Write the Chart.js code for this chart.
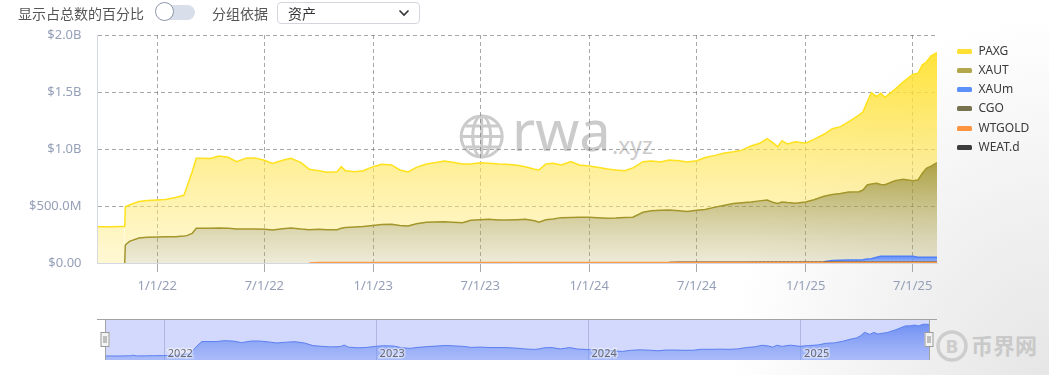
<!DOCTYPE html>
<html><head><meta charset="utf-8">
<script src="https://cdn.jsdelivr.net/npm/chart.js@4.4.0/dist/chart.umd.min.js"></script>
<style>
html,body{margin:0;padding:0;}
body{width:1049px;height:375px;position:relative;overflow:hidden;background:#fff;font-family:"Noto Sans","Noto Sans CJK SC",sans-serif;}
#bg{position:absolute;left:0;top:0;width:1049px;height:375px;background:radial-gradient(ellipse 320px 360px at 1049px 375px,#e6e6e6 0%,#efefef 40%,rgba(255,255,255,0) 100%);}
#wm{position:absolute;left:0;top:0;}
canvas{position:absolute;left:0;}
.ctl{position:absolute;top:5px;height:16px;line-height:16px;font-size:14px;color:#555;font-family:"Noto Sans CJK SC","Noto Sans",sans-serif;white-space:nowrap;}
#track{position:absolute;left:160px;top:4.5px;width:35px;height:15px;border-radius:8px;background:#d8deea;}
#knob{position:absolute;left:155px;top:2px;width:17px;height:17px;border-radius:50%;background:#fff;border:1.5px solid #8c95a6;}
#sel{position:absolute;left:277px;top:1.5px;width:141px;height:20px;border:1px solid #d3d6dd;border-radius:4px;background:#fff;}
#sel span{position:absolute;left:10px;top:2px;line-height:16px;font-size:14px;color:#333;font-family:"Noto Sans CJK SC",sans-serif;}
#sel svg{position:absolute;left:120px;top:5px;}
#legend{position:absolute;left:957px;top:0;}
.li{position:absolute;left:0;height:16px;width:90px;}
.li i{position:absolute;left:0;top:6px;width:15px;height:5px;border-radius:1.5px;}
.li b{position:absolute;left:21.5px;top:0;line-height:16px;font-size:12px;font-weight:normal;color:#3a3a3a;white-space:nowrap;}
</style></head>
<body>
<div id="bg"></div>
<svg id="wm" width="1049" height="375">
 <g fill="none" stroke="#cbcbcb" stroke-width="3">
  <circle cx="481.7" cy="136.5" r="20.5"/>
  <ellipse cx="481.7" cy="136.5" rx="9" ry="20.5"/>
  <line x1="481.7" y1="116" x2="481.7" y2="157"/>
  <line x1="461.2" y1="136.5" x2="502.2" y2="136.5"/>
  <line x1="465.5" y1="126" x2="497.9" y2="126"/>
  <line x1="465.5" y1="147" x2="497.9" y2="147"/>
 </g>
 <text x="512" y="151" font-size="56" fill="#cbcbcb" font-family="Noto Sans, sans-serif">rwa</text>
 <text x="612" y="154" font-size="23" fill="#cbcbcb" font-family="Noto Sans, sans-serif">.xyz</text>
 <circle cx="952" cy="346" r="14" fill="none" stroke="#cdcdcd" stroke-width="3.5"/>
 <text x="952" y="352.5" font-size="17" font-weight="bold" fill="#cdcdcd" text-anchor="middle" font-family="DejaVu Sans, sans-serif">B</text>
 <text x="971" y="354" font-size="22" font-weight="bold" fill="#c9c9c9" font-family="Noto Sans CJK SC, sans-serif">币界网</text>
</svg>
<canvas id="main" width="1049" height="300" style="top:0;width:1049px;height:300px"></canvas>
<canvas id="nav" width="1049" height="60" style="top:310px;width:1049px;height:60px"></canvas>
<div class="ctl" style="left:18px">显示占总数的百分比</div>
<div id="track"></div><div id="knob"></div>
<div class="ctl" style="left:212px">分组依据</div>
<div id="sel"><span>资产</span><svg width="12" height="10"><polyline points="1.5,2.5 6,7 10.5,2.5" fill="none" stroke="#333" stroke-width="1.6"/></svg></div>
<div id="legend"></div>
<script>
// ---------------- data ----------------
const dates = [
'2021-09-22','2021-10-01','2021-10-15','2021-11-01','2021-11-07','2021-11-08','2021-11-15','2021-12-01','2021-12-15',
'2022-01-01','2022-01-15','2022-02-01','2022-02-15','2022-02-20','2022-03-01','2022-03-08','2022-03-15','2022-04-01','2022-04-15','2022-05-01','2022-05-15','2022-06-01','2022-06-15','2022-07-01','2022-07-15','2022-08-01','2022-08-15','2022-09-01','2022-09-15','2022-10-01','2022-10-15','2022-11-01','2022-11-08','2022-11-15','2022-12-01','2022-12-15',
'2023-01-01','2023-01-15','2023-02-01','2023-02-15','2023-03-01','2023-03-15','2023-04-01','2023-04-15','2023-05-01','2023-05-15','2023-06-01','2023-06-15','2023-07-01','2023-07-15','2023-08-01','2023-08-15','2023-09-01','2023-09-15','2023-10-01','2023-10-08','2023-10-20','2023-11-01','2023-11-15','2023-12-01','2023-12-15',
'2024-01-01','2024-01-15','2024-02-01','2024-02-15','2024-03-01','2024-03-15','2024-04-01','2024-04-15','2024-05-01','2024-05-15','2024-06-01','2024-06-15','2024-07-01','2024-07-15','2024-08-01','2024-08-15','2024-09-01','2024-09-15','2024-10-01','2024-10-15','2024-10-28','2024-11-08','2024-11-15','2024-11-22','2024-12-01','2024-12-15',
'2025-01-01','2025-01-15','2025-02-01','2025-02-15','2025-03-01','2025-03-15','2025-04-01','2025-04-08','2025-04-15','2025-04-22','2025-05-01','2025-05-08','2025-05-15','2025-06-01','2025-06-15','2025-07-01','2025-07-10','2025-07-17','2025-07-24','2025-08-01','2025-08-11'];

// values in $M
const PAXG = [
318,318,317,320,321,336,319,320,323,
325,327,344,358,424,541,613,613,612,631,623,591,624,624,605,584,601,610,582,530,514,504,509,540,498,485,490,
515,528,521,486,473,494,510,520,533,525,514,493,500,491,490,489,477,462,452,459,488,489,462,489,459,
450,441,433,421,410,433,444,437,424,439,439,434,435,455,454,457,454,462,491,505,537,520,498,538,514,539,
515,530,544,578,586,618,671,687,731,802,760,801,768,801,856,933,936,952,933,968,965];
const XAUT = [
0,0,0,0,0,158,190,220,225,
228,231,231,236,240,260,305,305,304,308,304,298,298,298,296,290,300,308,298,292,292,288,288,301,308,312,316,
326,334,335,326,321,341,354,356,358,354,350,371,376,379,374,373,376,379,366,353,376,381,394,396,397,
397,394,388,391,396,397,441,454,458,461,451,445,455,463,483,498,515,521,528,535,543,520,512,525,520,515,
525,545,575,578,585,596,598,612,649,654,649,628,626,662,674,662,678,735,780,800,830];
const XAUm = [
0,0,0,0,0,0,0,0,0,
0,0,0,0,0,0,0,0,0,0,0,0,0,0,0,0,0,0,0,0,0,0,0,0,0,0,0,
0,0,0,0,0,0,0,0,0,0,0,0,0,0,0,0,0,0,0,0,0,0,0,0,0,
0,0,0,0,0,0,0,0,0,0,0,0,0,0,0,0,0,0,0,0,0,0,0,0,0,0,
0,0,0,12,15,16,17,18,25,28,40,50,50,50,50,50,40,40,40,40,40];
const CGO = [
0,0,0,0,0,0,0,0,0,
0,0,0,0,0,0,0,0,0,0,0,0,0,0,0,0,0,0,0,0,0,0,0,0,0,0,0,
0,0,0,0,0,0,0,0,0,0,0,0,0,0,0,0,0,0,0,0,0,0,0,0,0,
0,0,0,0,0,0,0,0,0,0,0,0,0,0,0,0,0,0,0,3,3,3,3,3,3,3,
3,3,3,3,3,3,3,3,3,3,3,3,3,3,3,3,3,3,3,3,3];
const WTGOLD = [
0,0,0,0,0,0,0,0,0,
0,0,0,0,0,0,0,0,0,0,0,0,0,0,0,0,0,0,0,0,4,4,4,4,4,4,4,
4,4,4,4,4,4,4,4,4,4,4,4,4,4,4,4,4,4,4,4,4,4,4,4,4,
4,4,4,4,4,4,4,4,4,4,4,4,4,4,4,4,4,4,4,4,4,4,4,4,4,4,
4,4,4,4,4,4,4,4,4,4,4,4,4,4,4,4,4,4,4,4,4];
const WEATd = [
0,0,0,0,0,0,0,0,0,
0,0,0,0,0,0,0,0,0,0,0,0,0,0,0,0,0,0,0,0,0,0,0,0,0,0,0,
0,0,0,0,0,0,0,0,0,0,0,0,0,0,0,0,0,0,0,0,0,0,0,0,0,
0,0,0,0,0,0,0,0,0,0,3,3,3,3,3,3,3,3,3,3,3,3,3,3,3,3,
3,3,3,3,3,3,3,3,3,3,3,3,3,3,3,3,3,3,3,3,3];

const legendNames = ['PAXG','XAUT','XAUm','CGO','WTGOLD','WEAT.d'];
const xTickDates = ['2022-01-01','2022-07-01','2023-01-01','2023-07-01','2024-01-01','2024-07-01','2025-01-01','2025-07-01'];
const xTickLabels = ['1/1/22','7/1/22','1/1/23','7/1/23','1/1/24','7/1/24','1/1/25','7/1/25'];
const yTickValues = [0,500,1000,1500,2000];
const yTickLabels = ['$0.00','$500.0M','$1.0B','$1.5B','$2.0B'];
const navYears = ['2022','2023','2024','2025'];

// ---------------- build ----------------
const FONT = "'Noto Sans','Noto Sans CJK SC',sans-serif";
const toDay = s => { const [y,m,d] = s.split('-').map(Number); return (Date.UTC(y,m-1,d) - Date.UTC(2022,0,1)) / 86400000; };
const xs = dates.map(toDay);
const pts = arr => arr.map((v,i) => ({x: xs[i], y: v}));

const below = dates.map((_,i) => WTGOLD[i] + WEATd[i] + CGO[i] + XAUm[i]);
const xautTop = Math.max(...dates.map((_,i) => below[i] + XAUT[i]));
const paxgTop = Math.max(...dates.map((_,i) => below[i] + XAUT[i] + PAXG[i]));
const xaumTop = Math.max(...dates.map((_,i) => below[i]));

function vGrad(topVal, c0, c1) {
  return (ctx) => {
    const ch = ctx.chart, ca = ch.chartArea;
    if (!ca) return c1;
    const ys = ch.scales.y;
    const g = ch.ctx.createLinearGradient(0, ys.getPixelForValue(topVal), 0, ys.getPixelForValue(0));
    g.addColorStop(0, c0); g.addColorStop(1, c1);
    return g;
  };
}
const hideZero = { borderColor: c => (c.p0.parsed.y === 0 && c.p1.parsed.y === 0) ? 'rgba(0,0,0,0)' : undefined };

const colors = { 'PAXG':'#FFE033', 'XAUT':'#B3A74C', 'XAUm':'#5B8FF9', 'CGO':'#78734F', 'WTGOLD':'#FF9440', 'WEAT.d':'#3c3c3c' };

const datasets = [
  { label:'WTGOLD', data: pts(WTGOLD), borderColor:'#FF9A45', borderWidth:1.5, fill:false, segment: hideZero },
  { label:'WEAT.d', data: pts(WEATd), borderColor:'#4a3a2a', borderWidth:1.5, fill:false, segment: hideZero },
  { label:'CGO', data: pts(CGO), borderColor:'#8a8a8a', borderWidth:1, borderDash:[2,2], fill:false, segment: hideZero },
  { label:'XAUm', data: pts(XAUm), borderColor:'#4f80f5', borderWidth:1.5, fill:'-1', segment: hideZero,
    backgroundColor: vGrad(xaumTop, 'rgba(80,130,245,0.9)', 'rgba(120,160,250,0.75)') },
  { label:'XAUT', data: pts(XAUT), borderColor:'#A3962A', borderWidth:1.5, fill:'-1', segment: hideZero,
    backgroundColor: vGrad(xautTop, 'rgba(160,146,35,0.85)', 'rgba(185,175,100,0.25)') },
  { label:'PAXG', data: pts(PAXG), borderColor:'#FFE21C', borderWidth:1.5, fill:'-1',
    backgroundColor: vGrad(paxgTop, 'rgba(255,224,40,0.92)', 'rgba(255,234,130,0.35)') }
];

const gridCol = 'rgba(110,110,110,0.6)';
new Chart(document.getElementById('main'), {
  type: 'line',
  data: { datasets },
  options: {
    responsive:false, animation:false, events:[],
    layout:{ padding:{ left:0, top:35, right:112, bottom:0 } },
    plugins:{ legend:{display:false}, tooltip:{enabled:false} },
    elements:{ point:{radius:0}, line:{tension:0} },
    scales:{
      x:{ type:'linear', min:xs[0], max:xs[xs.length-1], z:1,
          afterFit: s => { s.height = 37; },
          afterBuildTicks: s => { s.ticks = xTickDates.map(d => ({value: toDay(d)})); },
          ticks:{ autoSkip:false, maxRotation:0, padding:6, color:'#95a0b8', font:{size:13, family:FONT},
                  callback:(v,i) => xTickLabels[i] },
          grid:{ color:gridCol, lineWidth:1, drawTicks:true, tickLength:9, tickColor:'#a8a8a8', tickBorderDash:[], tickWidth:1 },
          border:{ display:true, color:'#d3d8e3', width:1, dash:[4,3] } },
      y:{ type:'linear', stacked:true, min:0, max:2000, z:1,
          afterFit: s => { s.width = 97.5; },
          afterBuildTicks: s => { s.ticks = yTickValues.map(v => ({value:v})); },
          ticks:{ padding:16, color:'#95a0b8', font:{size:13, family:FONT}, callback:(v,i) => yTickLabels[i] },
          grid:{ color:gridCol, lineWidth:1, drawTicks:false },
          border:{ display:true, color:'#d3d8e3', width:1, dash:[4,3] } }
    }
  }
});

// legend (HTML)
const lg = document.getElementById('legend');
legendNames.forEach((n,i) => {
  const d = document.createElement('div');
  d.className = 'li';
  d.style.top = (42.7 + i*19.2) + 'px';
  const ic = document.createElement('i'); ic.style.background = colors[n];
  const t = document.createElement('b'); t.textContent = n;
  d.appendChild(ic); d.appendChild(t); lg.appendChild(d);
});

// navigator
const navPlugin = {
  id:'navFrame',
  beforeDatasetsDraw(ch) {
    const {ctx, chartArea:ca, scales:{x}} = ch;
    ctx.save();
    ctx.fillStyle = '#d3d9fc';
    ctx.fillRect(ca.left, ca.top, ca.right-ca.left, ca.bottom-ca.top);
    ctx.strokeStyle = 'rgba(165,172,215,0.8)'; ctx.lineWidth = 1;
    navYears.forEach(y => {
      const px = Math.round(x.getPixelForValue(toDay(y+'-01-01'))) + 0.5;
      ctx.beginPath(); ctx.moveTo(px, ca.top); ctx.lineTo(px, ca.bottom); ctx.stroke();
    });
    ctx.restore();
  },
  afterDatasetsDraw(ch) {
    const {ctx, chartArea:ca, scales:{x}} = ch;
    ctx.save();
    ctx.strokeStyle = '#a3a3a3'; ctx.lineWidth = 1;
    ctx.beginPath(); ctx.moveTo(97, ca.top - 0.5); ctx.lineTo(937, ca.top - 0.5); ctx.stroke();
    [ca.left, ca.right].forEach(px => {
      ctx.beginPath(); ctx.moveTo(px + 0.5, ca.top); ctx.lineTo(px + 0.5, ca.bottom); ctx.stroke();
    });
    ctx.font = "11px " + FONT; ctx.textBaseline = 'alphabetic';
    navYears.forEach(y => {
      const px = x.getPixelForValue(toDay(y+'-01-01')) + 4;
      ctx.lineWidth = 3; ctx.strokeStyle = 'rgba(255,255,255,0.45)';
      ctx.strokeText(y, px, 46.5);
      ctx.fillStyle = '#6a6a72'; ctx.fillText(y, px, 46.5);
    });
    // handles
    [ca.left, ca.right].forEach(px => {
      const hx = px - 4.5, hy = 22, hw = 9, hh = 15;
      ctx.fillStyle = '#f3f3f3'; ctx.fillRect(hx, hy, hw, hh);
      ctx.strokeStyle = '#9a9a9a'; ctx.lineWidth = 1; ctx.strokeRect(hx + 0.5, hy + 0.5, hw - 1, hh - 1);
      ctx.strokeStyle = '#8a8a8a';
      ctx.beginPath(); ctx.moveTo(hx + 3.5, hy + 4); ctx.lineTo(hx + 3.5, hy + hh - 4);
      ctx.moveTo(hx + 5.5, hy + 4); ctx.lineTo(hx + 5.5, hy + hh - 4); ctx.stroke();
    });
    ctx.restore();
  }
};
new Chart(document.getElementById('nav'), {
  type:'line',
  data:{ datasets:[{ label:'PAXG', data: pts(PAXG), borderColor:'#5b7ff0', borderWidth:1, fill:'start',
    backgroundColor: (c) => { const ca = c.chart.chartArea; if (!ca) return 'rgba(90,130,240,0.6)';
      const g = c.chart.ctx.createLinearGradient(0, ca.top, 0, ca.bottom);
      g.addColorStop(0, 'rgba(85,125,240,0.85)'); g.addColorStop(1, 'rgba(120,150,245,0.45)'); return g; } }] },
  options:{ responsive:false, animation:false, events:[],
    layout:{ padding:{ left:105, right:120, top:10, bottom:10 } },
    plugins:{ legend:{display:false}, tooltip:{enabled:false} },
    elements:{ point:{radius:0}, line:{tension:0} },
    scales:{ x:{ type:'linear', display:false, min:xs[0], max:xs[xs.length-1] },
             y:{ display:false, min:235, max:1055 } } },
  plugins:[navPlugin]
});
</script>
</body></html>
